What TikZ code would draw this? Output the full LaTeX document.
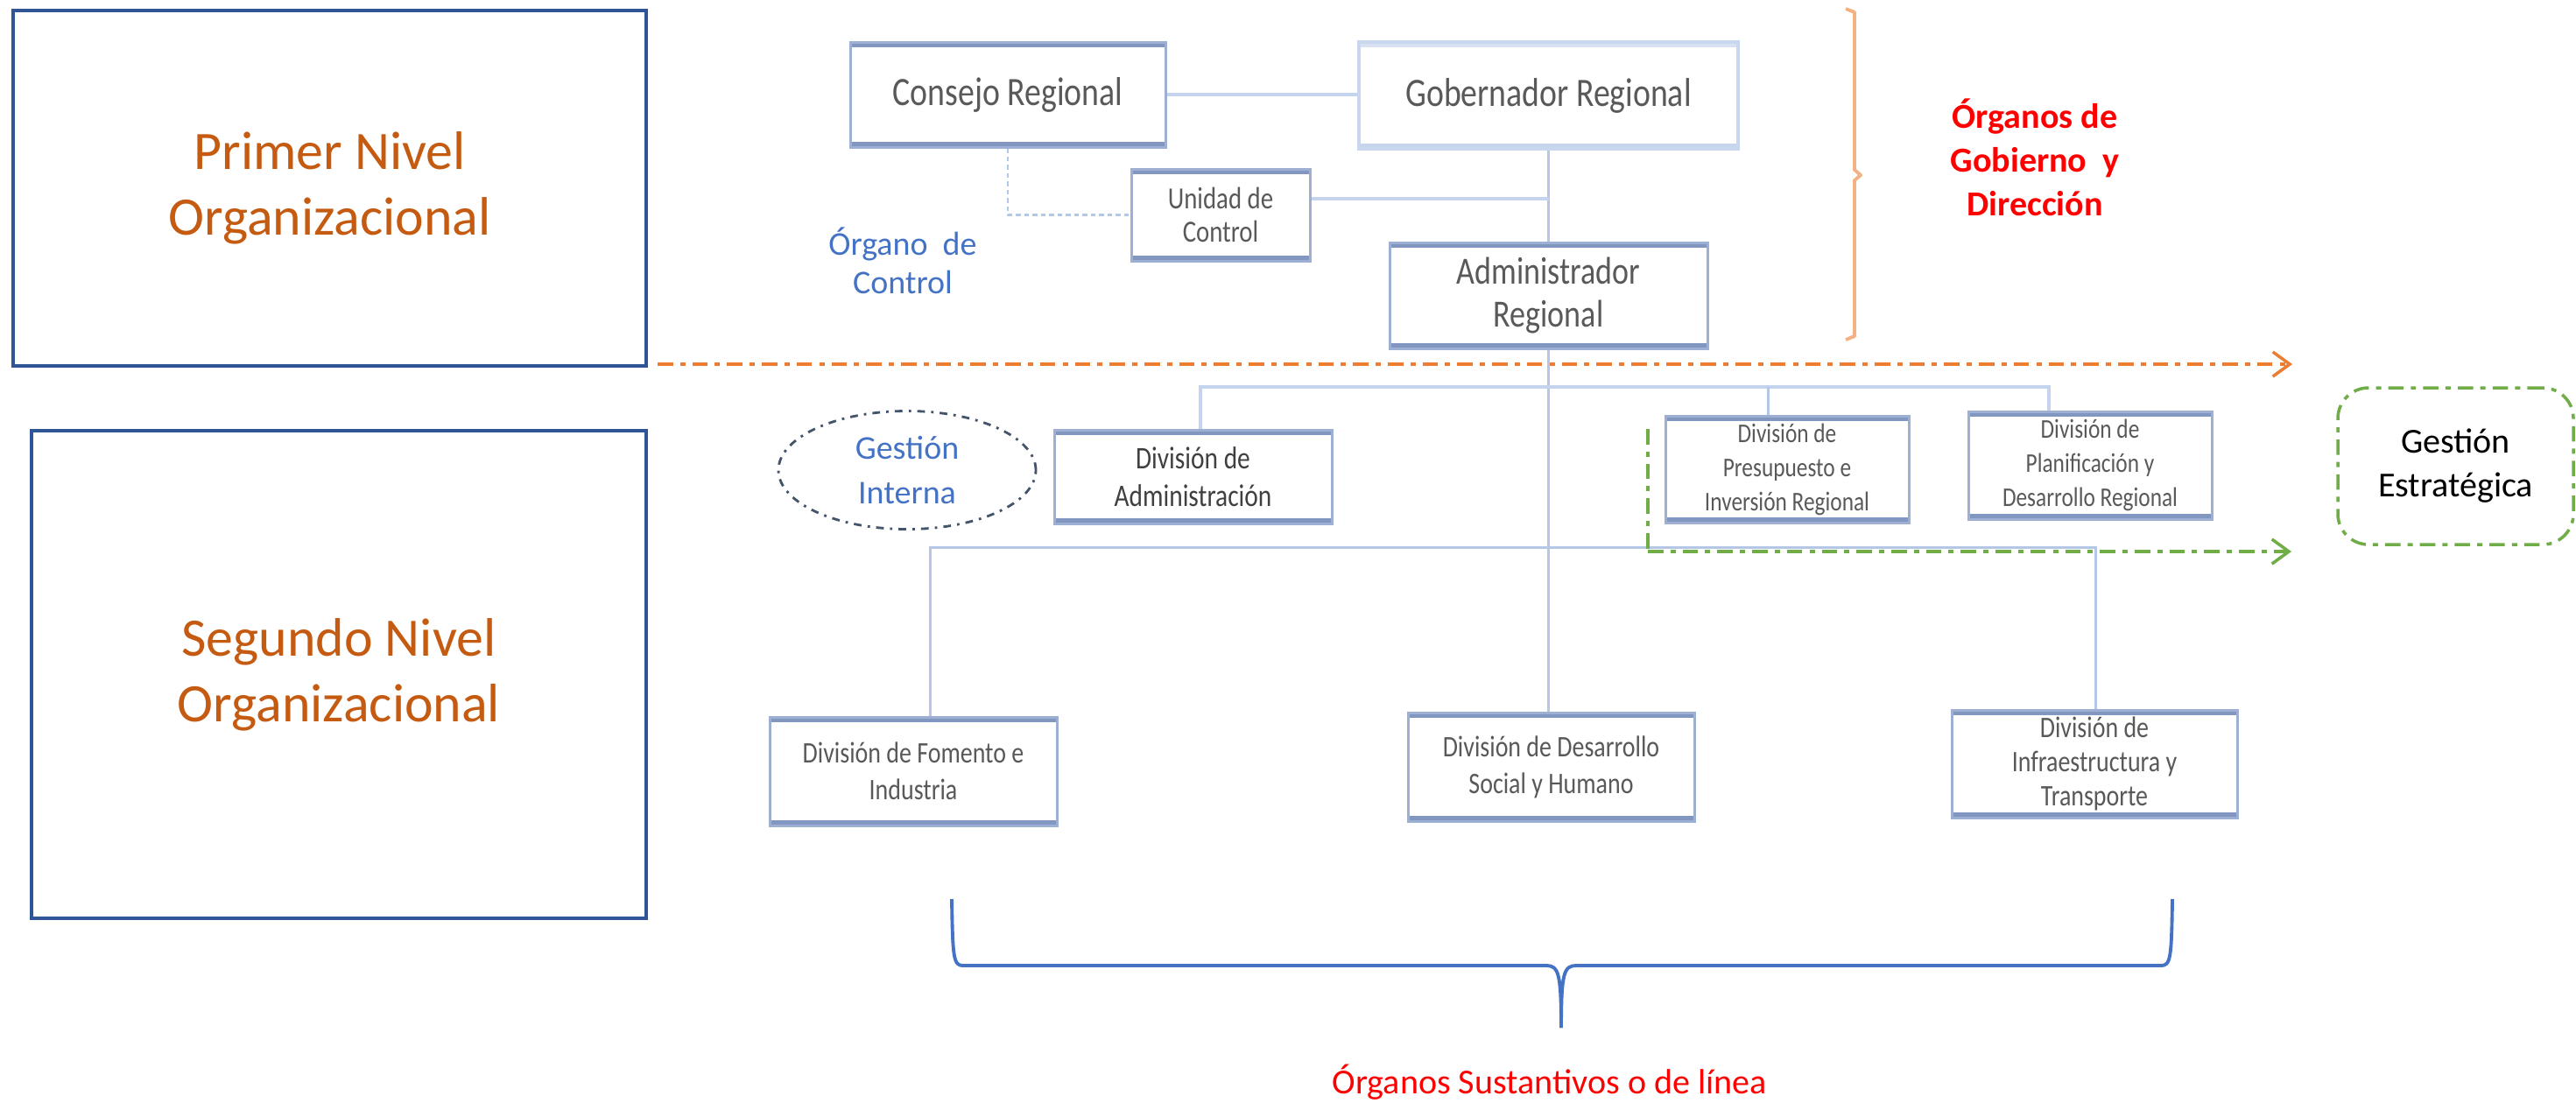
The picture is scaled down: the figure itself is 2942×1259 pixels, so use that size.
\documentclass[tikz,border=0pt]{standalone}
\usepackage{fontspec}
\setmainfont{Carlito}
\newfontfamily\condfont[FakeStretch=0.82]{Carlito}
\usetikzlibrary{arrows.meta,shapes.geometric}
\definecolor{lvlblue}{HTML}{2F5597}
\definecolor{lvltxt}{HTML}{C55A11}
\definecolor{boxside}{HTML}{9DB0D3}
\definecolor{boxbar}{HTML}{8196C0}
\definecolor{gobside}{HTML}{C9D7EE}
\definecolor{gobbar}{HTML}{C6D4EC}
\definecolor{txtgray}{HTML}{595959}
\definecolor{txtdark}{HTML}{404040}
\definecolor{connc}{HTML}{C5D4EE}
\definecolor{vlinec}{HTML}{B4C7E7}
\definecolor{bluetxt}{HTML}{4472C4}
\definecolor{slate}{HTML}{44546A}
\definecolor{orgline}{HTML}{ED7D31}
\definecolor{orglight}{HTML}{F4B183}
\definecolor{greenc}{HTML}{70AD47}
\definecolor{redtxt}{HTML}{FF0000}
\tikzset{
  lvlbox/.style={draw=lvlblue, line width=1.1pt, align=center, text=lvltxt, inner sep=0pt,
    font=\fontsize{17.6pt}{21.3pt}\selectfont},
  orgbox/.style={draw=boxside, line width=0.85pt, fill=white, align=center, inner sep=0pt, text=txtgray,
    path picture={
      \fill[boxbar] (path picture bounding box.north west) rectangle ([yshift=-1.7pt]path picture bounding box.north east);
      \fill[boxbar] (path picture bounding box.south west) rectangle ([yshift=1.7pt]path picture bounding box.south east);}},
  gobbox/.style={draw=gobside, line width=1.1pt, fill=white, align=center, inner sep=0pt, text=txtgray,
    path picture={
      \fill[gobbar!70] (path picture bounding box.north west) rectangle ([yshift=-1.8pt]path picture bounding box.north east);
      \fill[gobbar] (path picture bounding box.south west) rectangle ([yshift=1.7pt]path picture bounding box.south east);}},
  conn/.style={draw=connc, line width=1.1pt},
  vline/.style={draw=vlinec, line width=0.85pt},
  dotline/.style={draw=vlinec, line width=0.7pt, dash pattern=on 1.5pt off 1.2pt},
  orgdash/.style={draw=orgline, line width=1.2pt, dash pattern=on 5pt off 2.3pt on 1.7pt off 2.3pt,
    -{Straight Barb[length=5.5pt,width=8pt,line width=1pt]}},
  greendash/.style={draw=greenc, line width=1.1pt, dash pattern=on 5pt off 2.3pt on 1.7pt off 2.3pt},
  tinytxt/.style={font=\condfont\fontsize{8.8pt}{11.1pt}\selectfont},
  midtxt/.style={font=\condfont\fontsize{9.7pt}{12pt}\selectfont},
}
\begin{document}
\begin{tikzpicture}[x=0.1mm,y=-0.1mm]
\useasboundingbox[fill=white] (0,0) rectangle (2942,1259);

% level boxes
\node[lvlbox, minimum width=72.3mm, minimum height=40.6mm] (L1) at (376.5,215) {Primer Nivel\\Organizacional};
\node[lvlbox, minimum width=70.2mm, minimum height=55.7mm] (L2) at (387,770.5) {Segundo Nivel\\Organizacional};

% first level
\node[orgbox, minimum width=36mm, minimum height=12mm, font=\condfont\fontsize{13.1pt}{15pt}\selectfont] (Consejo) at (1151,108) {Consejo Regional};
\node[gobbox, minimum width=43.3mm, minimum height=12.2mm, font=\condfont\fontsize{13.1pt}{15pt}\selectfont] (Gob) at (1768.5,109) {Gobernador Regional};
\node[orgbox, minimum width=20.4mm, minimum height=10.5mm, font=\condfont\fontsize{10pt}{10.8pt}\selectfont] (Unidad) at (1394,245.5) {Unidad de\\Control};
\node[orgbox, minimum width=36.3mm, minimum height=12.1mm, font=\condfont\fontsize{12.5pt}{14.2pt}\selectfont] (Admin) at (1768.5,337.5) {Administrador\\Regional};

\node[text=bluetxt, align=center, font=\fontsize{10.8pt}{12.5pt}\selectfont] (OCtxt) at (1031,298) {Órgano~ de\\Control};

% second level top row
\node[orgbox, text=txtdark, minimum width=31.7mm, minimum height=10.7mm, font=\condfont\fontsize{10.2pt}{12.2pt}\selectfont] (DivAdm) at (1362.5,544.5) {División de\\Administración};
\node[orgbox, minimum width=27.8mm, minimum height=12.2mm, tinytxt] (Presup) at (2041,536) {División de\\Presupuesto e\\Inversión Regional};
\node[orgbox, minimum width=27.8mm, minimum height=12.3mm, tinytxt] (Planif) at (2387,531.5) {División de\\Planificación y\\Desarrollo Regional};

\node[ellipse, draw=slate, line width=0.8pt, dash pattern=on 2.5pt off 2pt on 0.8pt off 2pt,
  minimum width=29.4mm, minimum height=13.5mm, inner sep=0pt, align=center, text=bluetxt,
  font=\fontsize{10.8pt}{14.5pt}\selectfont] (GInt) at (1036,537) {Gestión\\Interna};

\node[draw=greenc, line width=1pt, rounded corners=3.5mm, dash pattern=on 5pt off 2.3pt on 1.7pt off 2.3pt,
  minimum width=26.9mm, minimum height=17.9mm, inner sep=0pt, align=center, text=black,
  font=\fontsize{11.4pt}{14.2pt}\selectfont] (GEst) at (2804.5,532.5) {Gestión\\Estratégica};

% second level bottom row
\node[orgbox, minimum width=32.8mm, minimum height=12.4mm, midtxt] (Fomento) at (1043,881) {División de Fomento e\\Industria};
\node[orgbox, minimum width=32.7mm, minimum height=12.4mm, midtxt] (Desarrollo) at (1771.5,876) {División de Desarrollo\\Social y Humano};
\node[orgbox, minimum width=32.6mm, minimum height=12.3mm, font=\condfont\fontsize{9.7pt}{11.1pt}\selectfont] (Infra) at (2392,872.5) {División de\\Infraestructura y\\Transporte};

% labels
\node[text=redtxt, align=center, font=\bfseries\fontsize{11.4pt}{14.2pt}\selectfont] (OGob) at (2324,180) {Órganos de\\Gobierno~ y\\Dirección};
\node[text=redtxt, font=\fontsize{11.4pt}{13pt}\selectfont] (OSus) at (1770,1236) {Órganos Sustantivos o de línea};

% connectors first level
\begin{scope}[on background layer/.style={}]
\end{scope}
\draw[conn] (Consejo.east) -- (Consejo.east -| Gob.west);
\draw[vline] (Gob.south) -- (Admin.north);
\coordinate (uj) at (1768.5,227);
\draw[conn] (Unidad.east |- uj) -- (uj);
\draw[dotline] (Consejo.south) |- (Unidad.west);

% main vertical to second level
\draw[vline] (Admin.south) -- (Admin.south |- Desarrollo.north);

% upper bus
\coordinate (b1) at (1371,442);
\coordinate (b2) at (2340,442);
\coordinate (b3) at (2019,442);
\draw[conn] (b1 |- DivAdm.north) -- (b1) -- (b2) -- (b2 |- Planif.north);
\draw[vline] (b3) -- (b3 |- Presup.north);

% lower bus
\coordinate (c1) at (1062,625);
\coordinate (c2) at (2393,625);
\draw[vline] (c1 |- Fomento.north) -- (c1) -- (c2) -- (c2 |- Infra.north);

% orange separator arrow
\coordinate (o1) at (751,416);
\coordinate (o2) at (2618,416);
\draw[orgdash] (o1) -- (o2);

% green strategic arrow
\coordinate (g1) at (1882,490);
\coordinate (g2) at (1882,630);
\coordinate (g3) at (2617,630);
\draw[greendash] (g1) -- (g2);
\draw[greendash, -{Straight Barb[length=5.5pt,width=8pt,line width=1pt]}] (g2) -- (g3);

% orange bracket
\draw[orglight, line width=1.1pt, line join=round] (2108,10) -- (2118,14) -- (2118,194) -- (2125,200) -- (2118,206) -- (2118,384) -- (2108,388);

% blue brace
\draw[bluetxt, line width=1.1pt] (1087,1027) .. controls (1088,1095) and (1089,1103) .. (1100,1103) -- (1766,1103)
  .. controls (1780,1103) and (1783,1112) .. (1783,1174);
\draw[bluetxt, line width=1.1pt] (2481,1027) .. controls (2480,1095) and (2479,1103) .. (2468,1103) -- (1800,1103)
  .. controls (1786,1103) and (1783,1112) .. (1783,1174);
\end{tikzpicture}
\end{document}
